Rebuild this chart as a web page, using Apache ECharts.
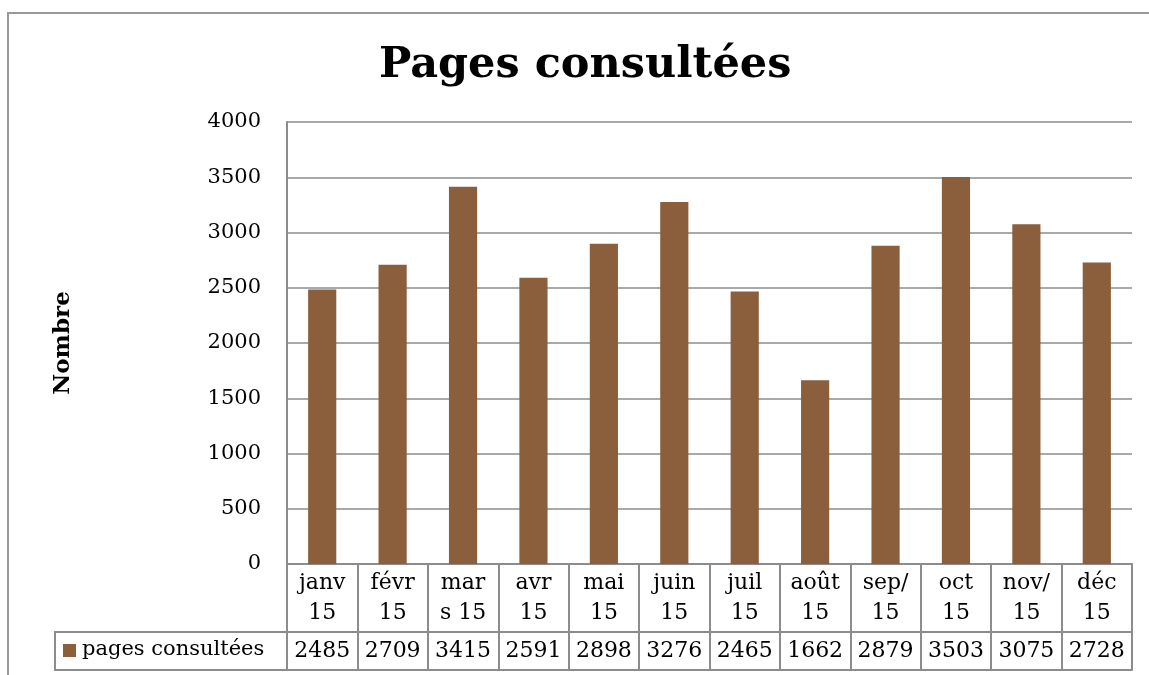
<!DOCTYPE html>
<html>
<head>
<meta charset="utf-8">
<script src="https://cdn.jsdelivr.net/npm/echarts@6/dist/echarts.min.js"></script>
<style>
  html, body { margin: 0; padding: 0; background: #fff; }
  #chart { width: 1149px; height: 675px; }
</style>
</head>
<body>
<div id="chart"></div>
<script>
// Monthly page views, 2015
const months = ['janv\n15', 'févr\n15', 'mar\ns 15', 'avr\n15', 'mai\n15', 'juin\n15',
                'juil\n15', 'août\n15', 'sep/\n15', 'oct\n15', 'nov/\n15', 'déc\n15'];
const pageViews = [2485, 2709, 3415, 2591, 2898, 3276, 2465, 1662, 2879, 3503, 3075, 2728];
const seriesName = 'pages consultées';
const yTicks = { min: 0, max: 4000, step: 500 };

const FONT = 'DejaVu Serif';
const LINE = '#8c8c8c';
const BAR = '#8B5E3C';

const chart = echarts.init(document.getElementById('chart'));

chart.setOption({
  backgroundColor: '#fff',
  animation: false,
  textStyle: { fontFamily: FONT, color: '#000' },
  title: {
    text: 'Pages consultées',
    left: 374,
    top: 39,
    textStyle: { fontFamily: FONT, fontSize: 43, fontWeight: 'bold', color: '#000' }
  },
  grid: { left: 287, right: 17, top: 122, bottom: 111, containLabel: false },
  // key swatch of the data table; its caption is drawn as a serif text below
  legend: {
    data: [seriesName],
    left: 63,
    top: 644,
    padding: 0,
    itemWidth: 13,
    itemHeight: 13,
    itemGap: 0,
    icon: 'rect',
    formatter: () => '',
    textStyle: { fontSize: 1 }
  },
  graphic: [
    // outer chart frame
    { type: 'rect', shape: { x: 8, y: 13, width: 1400, height: 800 },
      style: { fill: 'none', stroke: '#999', lineWidth: 2 }, silent: true },
    // legend key cell of the data table
    { type: 'rect', shape: { x: 55, y: 632, width: 232, height: 38 },
      style: { fill: 'none', stroke: LINE, lineWidth: 2 }, silent: true },
    { type: 'text', left: 82, top: 639, silent: true,
      style: { text: seriesName, font: '21px "DejaVu Serif"', fill: '#000' } }
  ],
  xAxis: [
    {
      type: 'category',
      data: months,
      position: 'bottom',
      axisLine: { show: true, lineStyle: { color: LINE, width: 2 } },
      axisTick: { show: true, length: 106, lineStyle: { color: LINE, width: 2 } },
      axisLabel: { fontFamily: FONT, fontSize: 22, color: '#000', lineHeight: 30, margin: 4, interval: 0 },
      splitLine: { show: false }
    },
    {
      type: 'category',
      data: pageViews.map(String),
      position: 'bottom',
      offset: 68,
      axisLine: { show: true, lineStyle: { color: LINE, width: 2 } },
      axisTick: { show: false },
      axisLabel: { fontFamily: FONT, fontSize: 22, color: '#000', margin: 8, interval: 0 }
    },
    {
      type: 'category',
      data: months,
      position: 'bottom',
      offset: 106,
      axisLine: { show: true, lineStyle: { color: LINE, width: 2 } },
      axisTick: { show: false },
      axisLabel: { show: false }
    }
  ],
  yAxis: {
    type: 'value',
    min: yTicks.min,
    max: yTicks.max,
    interval: yTicks.step,
    name: 'Nombre',
    nameLocation: 'middle',
    nameRotate: 90,
    nameGap: 212,
    nameTextStyle: { fontFamily: FONT, fontSize: 23, fontWeight: 'bold', color: '#000' },
    axisLine: { show: true, lineStyle: { color: LINE, width: 2 } },
    axisTick: { show: false },
    axisLabel: { fontFamily: FONT, fontSize: 21, color: '#000', margin: 26, formatter: (v) => String(v) },
    splitLine: { show: true, lineStyle: { color: LINE, width: 1.5 } }
  },
  series: [{
    name: seriesName,
    type: 'bar',
    data: pageViews,
    barCategoryGap: '60%',
    itemStyle: { color: BAR }
  }]
});
</script>
</body>
</html>
